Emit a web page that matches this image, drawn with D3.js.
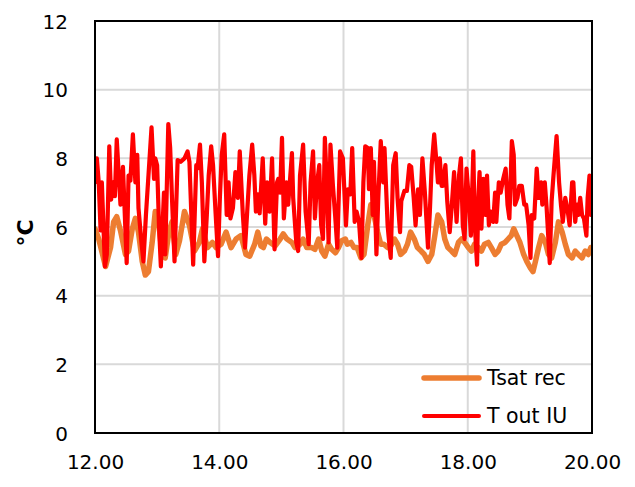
<!DOCTYPE html>
<html>
<head>
<meta charset="utf-8">
<script src="https://cdn.jsdelivr.net/npm/d3@7"></script>
<style>
  html, body { margin: 0; padding: 0; background: #fff; }
  svg { display: block; }
  .tick text { font-family: "DejaVu Sans", sans-serif; font-size: 20px; fill: #000; }
</style>
</head>
<body>
<svg id="chart" width="635" height="487"></svg>
<script>
// Hour of day (x) and temperature in °C for each series
const tsatHours = [12.00,12.06,12.17,12.25,12.30,12.35,12.41,12.49,12.54,12.60,12.65,12.70,12.76,12.81,12.86,12.92,12.97,13.03,13.08,13.13,13.19,13.24,13.30,13.36,13.44,13.52,13.60,13.68,13.73,13.81,13.89,13.95,14.03,14.11,14.19,14.27,14.35,14.43,14.49,14.57,14.62,14.67,14.71,14.76,14.82,14.90,14.98,15.03,15.09,15.17,15.22,15.27,15.33,15.35,15.41,15.49,15.54,15.60,15.65,15.70,15.76,15.81,15.87,15.92,15.97,16.03,16.06,16.12,16.17,16.22,16.28,16.33,16.39,16.44,16.49,16.55,16.60,16.65,16.71,16.76,16.82,16.87,16.92,16.98,17.03,17.08,17.14,17.19,17.25,17.30,17.36,17.42,17.47,17.52,17.58,17.63,17.68,17.74,17.79,17.85,17.90,17.95,18.01,18.06,18.11,18.17,18.22,18.27,18.33,18.38,18.44,18.49,18.54,18.60,18.65,18.70,18.74,18.79,18.84,18.90,18.95,19.01,19.05,19.09,19.14,19.19,19.25,19.30,19.35,19.41,19.46,19.52,19.57,19.62,19.68,19.73,19.78,19.84,19.89,19.94,19.98,20.00];
const tsatRec = [5.95,5.65,4.85,5.4,6.15,6.3,5.9,5.2,5.3,5.95,6.25,5.85,5.0,4.6,4.7,5.55,6.45,6.05,5.2,5.1,5.85,6.15,5.2,5.6,6.45,6.05,5.3,5.55,5.95,5.4,5.55,5.4,5.5,5.85,5.4,5.65,5.75,5.2,5.15,5.5,5.85,5.45,5.4,5.65,5.55,5.45,5.65,5.8,5.65,5.55,5.4,5.45,5.55,5.65,5.4,5.4,5.35,5.65,5.3,5.15,5.5,5.35,5.25,5.4,5.6,5.65,5.5,5.55,5.4,5.4,5.1,5.2,6.05,6.65,6.35,5.85,5.5,5.5,5.4,5.45,5.65,5.5,5.2,5.3,5.5,5.85,5.65,5.4,5.3,5.2,5.0,5.2,5.75,6.35,6.15,5.65,5.4,5.3,5.2,5.55,5.65,5.55,5.4,5.3,5.5,5.4,5.3,5.5,5.55,5.4,5.2,5.3,5.5,5.55,5.65,5.75,5.95,5.75,5.55,5.2,5.0,4.8,4.7,5.0,5.4,5.75,5.55,5.2,5.1,5.55,6.15,5.85,5.5,5.2,5.1,5.3,5.2,5.1,5.3,5.2,5.4,5.3];

const toutHours = [12.00,12.03,12.06,12.09,12.11,12.16,12.19,12.23,12.26,12.29,12.32,12.35,12.38,12.41,12.45,12.48,12.51,12.54,12.57,12.61,12.65,12.68,12.70,12.75,12.78,12.82,12.91,12.95,12.97,13.00,13.03,13.06,13.11,13.13,13.18,13.21,13.24,13.28,13.33,13.38,13.44,13.49,13.52,13.58,13.63,13.65,13.69,13.72,13.76,13.80,13.83,13.87,13.90,13.94,13.98,14.01,14.04,14.08,14.12,14.15,14.18,14.22,14.26,14.30,14.33,14.38,14.415,14.45,14.485,14.53,14.565,14.59,14.62,14.65,14.70,14.74,14.77,14.81,14.85,14.89,14.93,14.95,14.98,15.01,15.04,15.08,15.11,15.17,15.19,15.24,15.27,15.30,15.35,15.39,15.44,15.47,15.51,15.54,15.57,15.61,15.64,15.67,15.70,15.73,15.76,15.79,15.83,15.865,15.90,15.945,15.99,16.04,16.07,16.11,16.14,16.18,16.21,16.25,16.29,16.32,16.35,16.39,16.41,16.44,16.47,16.49,16.53,16.56,16.60,16.64,16.66,16.71,16.735,16.76,16.80,16.84,16.87,16.91,16.93,16.98,17.02,17.06,17.09,17.13,17.16,17.20,17.23,17.27,17.31,17.36,17.39,17.42,17.46,17.50,17.52,17.55,17.58,17.60,17.64,17.67,17.71,17.74,17.78,17.82,17.86,17.89,17.92,17.95,17.98,18.02,18.05,18.09,18.11,18.15,18.17,18.19,18.22,18.25,18.29,18.31,18.34,18.37,18.41,18.44,18.46,18.50,18.53,18.57,18.61,18.64,18.67,18.71,18.74,18.76,18.80,18.83,18.87,18.91,18.94,18.98,19.01,19.03,19.07,19.11,19.14,19.18,19.20,19.24,19.27,19.32,19.35,19.38,19.43,19.47,19.50,19.53,19.57,19.61,19.64,19.68,19.70,19.73,19.76,19.78,19.81,19.84,19.87,19.91,19.93,19.96,19.98,20.00];
const toutIU = [7.3,8.0,7.3,5.9,7.3,4.85,5.2,8.35,6.8,7.3,6.9,8.55,7.6,6.65,7.75,6.35,4.95,7.5,7.35,8.7,7.3,8.1,6.55,5.5,5.0,6.35,8.9,7.4,8.0,7.8,6.05,4.85,7.0,5.2,9.0,8.3,6.8,5.0,7.95,7.9,8.0,8.2,7.9,4.9,7.8,7.7,8.4,7.3,5.0,6.35,7.5,8.35,7.8,6.45,5.15,6.85,8.1,8.7,6.35,7.3,6.25,6.55,7.6,6.85,8.2,6.35,5.4,6.45,7.5,8.4,7.5,6.45,6.95,6.4,8.0,6.1,7.3,6.45,8.0,5.35,7.3,7.4,7.0,8.6,6.25,7.3,6.65,8.15,6.85,5.55,5.3,7.5,8.4,6.45,5.5,7.3,8.2,6.25,7.2,7.8,6.05,5.65,8.6,7.3,5.55,8.4,7.2,6.35,5.4,8.2,8.0,6.05,7.1,6.95,8.3,6.15,6.45,6.15,5.1,7.3,8.35,8.3,7.1,8.3,6.35,7.9,5.2,6.85,8.5,7.3,8.3,6.05,5.55,5.1,7.8,8.15,6.85,5.85,6.75,7.05,7.05,7.8,7.75,6.85,6.05,7.1,6.35,8.0,7.0,5.4,6.45,7.8,8.7,7.8,7.3,8.0,7.2,7.2,7.8,6.75,5.85,6.55,7.6,6.15,7.5,8.0,6.05,5.65,7.7,6.75,5.75,8.2,6.15,4.9,6.85,7.6,5.95,7.4,6.35,7.5,6.05,6.45,6.15,7.0,6.15,7.3,7.0,7.4,7.7,6.65,6.25,8.5,8.1,6.65,6.85,7.2,7.2,6.65,6.65,6.05,5.1,6.35,6.25,7.7,6.85,7.3,6.65,7.3,6.55,4.95,6.75,7.5,8.65,7.3,6.65,6.15,6.85,6.45,6.05,7.3,7.3,6.15,6.65,6.35,6.85,6.35,6.25,5.75,6.85,7.5,6.35,6.4];

const xTicks = [12, 14, 16, 18, 20];
const yTicks = [0, 2, 4, 6, 8, 10, 12];
const seriesNames = ["Tsat rec", "T out IU"];
const seriesColors = ["#ED7D31", "#FF0000"];
const yTitle = "°C";

const svg = d3.select("#chart");
const plot = { left: 95, right: 592, top: 21, bottom: 433 };

const x = d3.scaleLinear().domain([12, 20]).range([plot.left, plot.right]);
const y = d3.scaleLinear().domain([0, 12]).range([plot.bottom, plot.top]);

svg.append("rect").attr("width", 635).attr("height", 487).attr("fill", "#fff");

// Gridlines
svg.append("g")
  .selectAll("line")
  .data(yTicks.filter(d => d > 0 && d < 12))
  .join("line")
  .attr("x1", plot.left).attr("x2", plot.right)
  .attr("y1", d => y(d)).attr("y2", d => y(d))
  .attr("stroke", "#d9d9d9").attr("stroke-width", 2);

svg.append("g")
  .selectAll("line")
  .data(xTicks.filter(d => d > 12 && d < 20))
  .join("line")
  .attr("x1", d => x(d)).attr("x2", d => x(d))
  .attr("y1", plot.top).attr("y2", plot.bottom)
  .attr("stroke", "#d9d9d9").attr("stroke-width", 2);

// Clip series to the plot area
svg.append("clipPath").attr("id", "plotClip")
  .append("rect")
  .attr("x", plot.left).attr("y", plot.top)
  .attr("width", plot.right - plot.left).attr("height", plot.bottom - plot.top);

const series = [
  { hours: tsatHours, vals: tsatRec, width: 5.5 },
  { hours: toutHours, vals: toutIU, width: 4.2 }
];

const line = d3.line().x(d => x(d[0])).y(d => y(d[1]));

const lines = svg.append("g").attr("clip-path", "url(#plotClip)");
series.forEach((s, i) => {
  lines.append("path")
    .datum(s.hours.map((h, j) => [h, s.vals[j]]))
    .attr("d", line)
    .attr("fill", "none")
    .attr("stroke", seriesColors[i])
    .attr("stroke-width", s.width)
    .attr("stroke-linejoin", "round")
    .attr("stroke-linecap", "round");
});

// Plot frame
svg.append("rect")
  .attr("x", plot.left).attr("y", plot.top)
  .attr("width", plot.right - plot.left).attr("height", plot.bottom - plot.top)
  .attr("fill", "none").attr("stroke", "#000").attr("stroke-width", 2);

// Axes
const xAxis = svg.append("g")
  .attr("transform", `translate(0,${plot.bottom + 19})`)
  .call(d3.axisBottom(x).tickValues(xTicks).tickFormat(d3.format(".2f")).tickSize(0));
xAxis.select(".domain").remove();

const yAxis = svg.append("g")
  .attr("transform", `translate(${plot.left - 24},0)`)
  .call(d3.axisLeft(y).tickValues(yTicks).tickFormat(d3.format("d")).tickSize(0));
yAxis.select(".domain").remove();
yAxis.selectAll(".tick text").attr("dy", "0.35em");

svg.append("text")
  .attr("transform", `translate(33,233) rotate(-90)`)
  .attr("text-anchor", "middle")
  .attr("font-family", "'DejaVu Sans', sans-serif")
  .attr("font-weight", "bold")
  .attr("font-size", 22)
  .text(yTitle);

// Legend
const legend = svg.append("g");
const legendY = [378, 416];
seriesNames.forEach((name, i) => {
  legend.append("line")
    .attr("x1", 424).attr("x2", 479)
    .attr("y1", legendY[i]).attr("y2", legendY[i])
    .attr("stroke", seriesColors[i])
    .attr("stroke-width", i === 0 ? 5.5 : 4)
    .attr("stroke-linecap", "round");
  legend.append("text")
    .attr("x", 487).attr("y", legendY[i])
    .attr("dy", "0.35em")
    .attr("font-family", "'DejaVu Sans', sans-serif")
    .attr("font-size", 20.5)
    .text(name);
});
</script>
</body>
</html>
